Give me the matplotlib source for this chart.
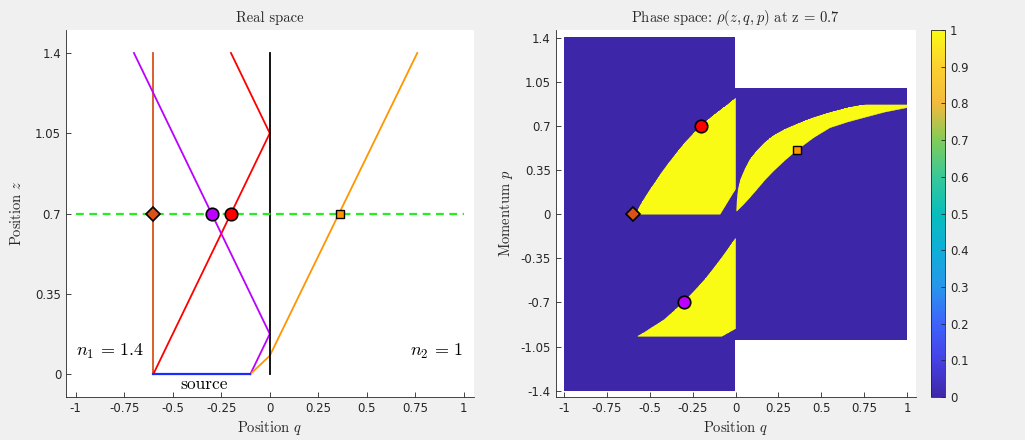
import numpy as np
import matplotlib
matplotlib.use('Agg')
from matplotlib import pyplot as plt
from matplotlib.colors import LinearSegmentedColormap
from matplotlib.path import Path

plt.rcParams['font.family'] = 'DejaVu Sans'
plt.rcParams['mathtext.fontset'] = 'cm'

# --- real space rays (q, z) ---
interface_q = [0, 0]
interface_z = [0, 1.4]
source_q = [-0.6, -0.1]
source_z = [0, 0]
ray_vert_q = [-0.6, -0.6]
ray_vert_z = [0, 1.4]
ray_red_q = [-0.6, 0, -0.2]
ray_red_z = [0, 1.05, 1.4]
ray_purple_q = [-0.1, 0, -0.7]
ray_purple_z = [0, 0.175, 1.4]
ray_orange_q = [-0.1, 0, 0.76]
ray_orange_z = [0, 0.08, 1.4]
z_slice = 0.7

# markers at z = 0.7: position q and momentum p
mark_q = {'vert': -0.6, 'purple': -0.3, 'red': -0.2, 'orange': 0.36}
mark_p = {'vert': 0.0, 'purple': -0.7, 'red': 0.7, 'orange': 0.51}

# --- phase space: yellow regions (q, p) ---
region_a = [(-0.58, 0.0), (-0.09, 0.0), (0.0, 0.20), (0.0, 0.918),
            (-0.03, 0.885), (-0.061, 0.85), (-0.10, 0.812), (-0.15, 0.758),
            (-0.194, 0.71), (-0.24, 0.645), (-0.294, 0.567), (-0.34, 0.49),
            (-0.392, 0.40), (-0.43, 0.33), (-0.469, 0.25), (-0.50, 0.19),
            (-0.528, 0.13), (-0.555, 0.07)]
region_b = [(-0.57, -0.968), (-0.08, -0.968), (0.0, -0.907), (0.0, -0.193),
            (-0.04, -0.27), (-0.08, -0.346), (-0.13, -0.435), (-0.178, -0.518),
            (-0.24, -0.61), (-0.30, -0.695), (-0.36, -0.77), (-0.415, -0.836),
            (-0.455, -0.872), (-0.489, -0.90), (-0.53, -0.937)]
region_c = [(0.007, 0.024), (0.009, 0.10), (0.016, 0.196), (0.03, 0.275),
            (0.055, 0.355), (0.085, 0.433), (0.124, 0.50), (0.17, 0.565),
            (0.22, 0.62), (0.285, 0.67), (0.357, 0.712), (0.45, 0.762),
            (0.551, 0.805), (0.65, 0.84), (0.70, 0.855), (0.76, 0.866),
            (1.0, 0.866),
            (1.0, 0.845), (0.87, 0.81), (0.745, 0.765), (0.65, 0.73),
            (0.551, 0.686), (0.455, 0.607), (0.362, 0.513), (0.29, 0.43),
            (0.22, 0.341), (0.17, 0.27), (0.124, 0.196), (0.085, 0.135),
            (0.046, 0.077), (0.02, 0.042)]
p_max_left = 1.4
p_max_right = 1.0

parula = LinearSegmentedColormap.from_list('parula', [
    (0.2422, 0.1504, 0.6603), (0.2717, 0.2554, 0.8989), (0.2400, 0.3900, 0.9900),
    (0.1540, 0.5902, 0.9218), (0.0600, 0.6800, 0.8500), (0.0282, 0.7450, 0.7350),
    (0.2163, 0.7851, 0.5989), (0.5044, 0.7993, 0.3480), (0.9500, 0.7300, 0.2400),
    (0.9892, 0.8136, 0.1885), (0.9769, 0.9839, 0.0805)])
parula.set_bad('white')

# rasterise rho on a grid
nq, npp = 800, 1120
qq = np.linspace(-1, 1, nq)
pp = np.linspace(-1.4, 1.4, npp)
Q, P = np.meshgrid(qq, pp)
pts = np.column_stack([Q.ravel(), P.ravel()])
rho = np.zeros(Q.shape)
for reg in (region_a, region_b, region_c):
    rho[Path(reg).contains_points(pts).reshape(Q.shape)] = 1
rho[(Q > 0) & (np.abs(P) > p_max_right)] = np.nan

axc = '#262626'
cm_font = 'cmr10'
fig = plt.figure(figsize=(10.25, 4.4), dpi=100, facecolor='#f0f0f0')
ax1 = fig.add_axes([0.0644, 0.0977, 0.3976, 0.834])
ax2 = fig.add_axes([0.542, 0.0977, 0.3512, 0.834])
cax = fig.add_axes([0.908, 0.0977, 0.014, 0.834])

def style(ax):
    ax.set_facecolor('white')
    for s in ('top', 'right'):
        ax.spines[s].set_visible(False)
    for s in ('left', 'bottom'):
        ax.spines[s].set_color(axc)
        ax.spines[s].set_linewidth(0.6)
    ax.tick_params(direction='in', length=3.5, width=0.6, colors=axc, labelsize=8.5)

xt = np.arange(-1, 1.01, 0.25)
xl = [f'{v:g}' for v in xt]

# left: real space
lw = 1.3
ax1.plot(ray_vert_q, ray_vert_z, color='#d95319', lw=lw)
ax1.plot(ray_red_q, ray_red_z, color='#ff0000', lw=lw)
ax1.plot(ray_purple_q, ray_purple_z, color='#bb00ff', lw=lw)
ax1.plot(ray_orange_q, ray_orange_z, color='#ff9500', lw=lw)
ax1.plot(interface_q, interface_z, color='black', lw=lw)
ax1.plot(source_q, source_z, color='#1a2cff', lw=1.6)
ax1.plot([-1, 1], [z_slice, z_slice], color='#22ee22', lw=1.6, ls=(0, (3.5, 2.5)))

def markers(ax, yv):
    ax.plot(mark_q['vert'], yv['vert'], 'D', color='#d95319', mec='black', mew=1.2, ms=7.5, zorder=5)
    ax.plot(mark_q['purple'], yv['purple'], 'o', color='#bb00ff', mec='black', mew=1.2, ms=9, zorder=5)
    ax.plot(mark_q['red'], yv['red'], 'o', color='#ff0000', mec='black', mew=1.2, ms=9, zorder=5)
    ax.plot(mark_q['orange'], yv['orange'], 's', color='#ff9500', mec='black', mew=1.0, ms=6, zorder=5)

markers(ax1, {k: z_slice for k in mark_q})
ax1.text(-1.0, 0.1, r'$n_1\,=\,1.4$', fontsize=13, ha='left', va='center')
ax1.text(1.0, 0.1, r'$n_2\,=\,1$', fontsize=13, ha='right', va='center')
ax1.text(-0.34, -0.045, 'source', fontsize=12.5, ha='center', va='center', family=cm_font)
ax1.set_xlim(-1.05, 1.05)
ax1.set_ylim(-0.1, 1.5)
ax1.set_xticks(xt, xl)
ax1.set_yticks([0, 0.35, 0.7, 1.05, 1.4], ['0', '0.35', '0.7', '1.05', '1.4'])
ax1.set_xlabel('Position $q$', fontsize=10.5, color=axc, labelpad=3, family=cm_font)
ax1.set_ylabel('Position $z$', fontsize=10.5, color=axc, labelpad=8, family=cm_font)
ax1.set_title('Real space', fontsize=10.5, color=axc, pad=6, family=cm_font)
style(ax1)

# right: phase space
im = ax2.imshow(rho, extent=[-1, 1, -1.4, 1.4], origin='lower', cmap=parula,
                vmin=0, vmax=1, interpolation='nearest', aspect='auto')
# smooth edges of the yellow patches
for reg in (region_a, region_b, region_c):
    ax2.fill(*zip(*reg), color=parula(1.0), lw=0.4, ec=parula(1.0))
markers(ax2, mark_p)
ax2.set_xlim(-1.05, 1.05)
ax2.set_ylim(-1.45, 1.46)
ax2.set_xticks(xt, xl)
yt = [-1.4, -1.05, -0.7, -0.35, 0, 0.35, 0.7, 1.05, 1.4]
ax2.set_yticks(yt, [f'{v:g}' for v in yt])
ax2.set_xlabel('Position $q$', fontsize=10.5, color=axc, labelpad=3, family=cm_font)
ax2.set_ylabel('Momentum $p$', fontsize=10.5, color=axc, labelpad=4, family=cm_font)
ax2.set_title(r'Phase space: $\rho(z,q,p)$ at z = 0.7', fontsize=10.5, color=axc,
              pad=6, family=cm_font)
style(ax2)

cb = fig.colorbar(im, cax=cax)
cb.set_ticks(np.arange(0, 1.01, 0.1), labels=[f'{v:g}' for v in np.round(np.arange(0, 1.01, 0.1), 1)])
cb.ax.tick_params(direction='in', length=3, width=0.6, colors=axc, labelsize=8.5)
cb.outline.set_edgecolor(axc)
cb.outline.set_linewidth(0.6)

fig.savefig('out.png', dpi=100, facecolor=fig.get_facecolor())
